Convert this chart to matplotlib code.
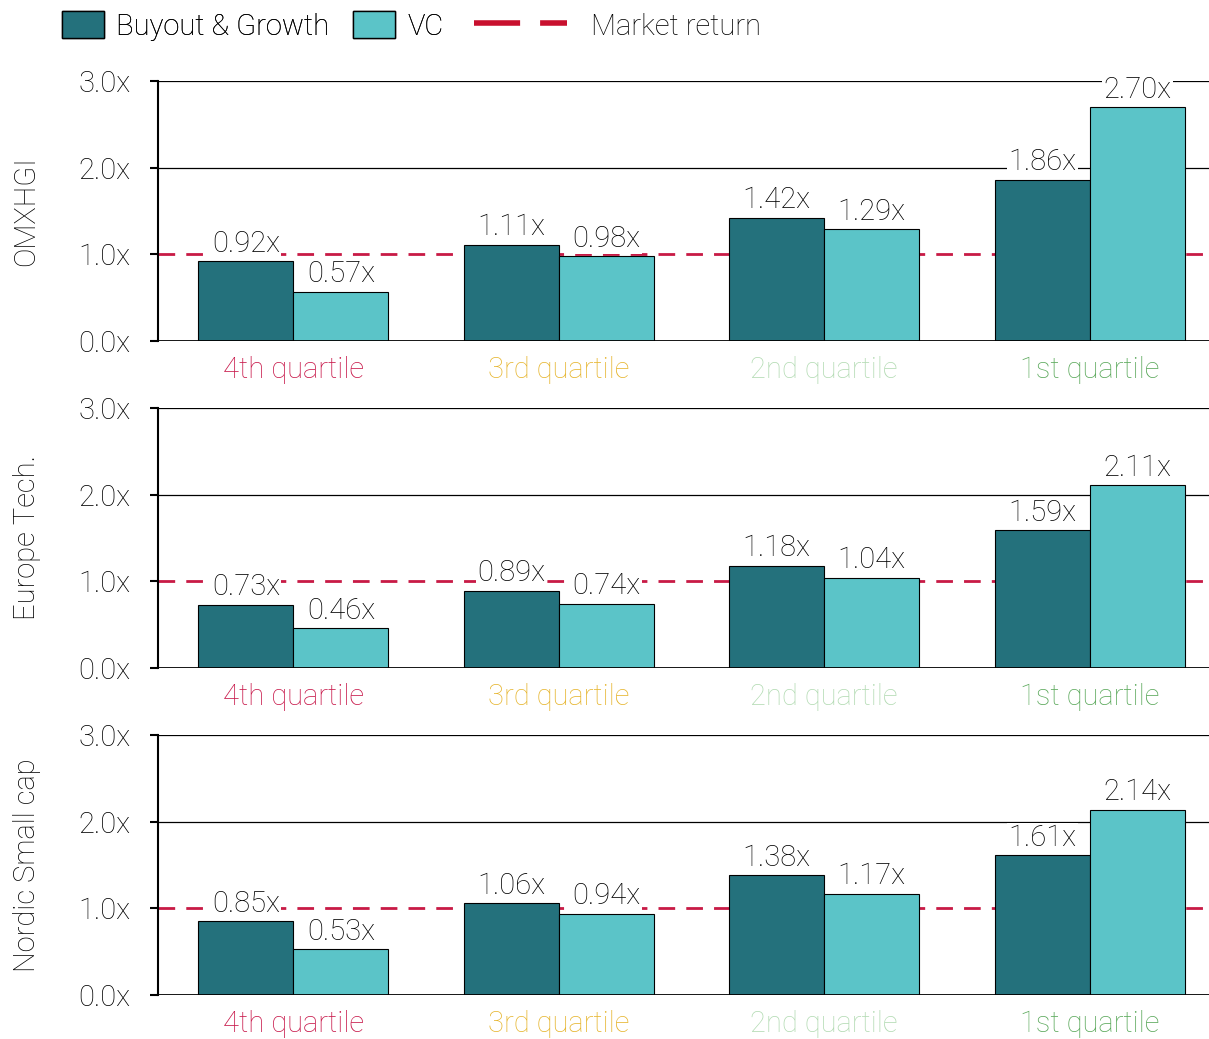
import matplotlib.pyplot as plt
import numpy as np
from matplotlib.patches import Patch
from matplotlib.lines import Line2D

plt.rcParams["font.family"] = ["Roboto", "DejaVu Sans"]
plt.rcParams["font.weight"] = "light"

quartiles = ["4th quartile", "3rd quartile", "2nd quartile", "1st quartile"]
quartile_colors = ["#c8184a", "#e6b52e", "#b3dbb3", "#5aa85a"]
indices = ["OMXHGI", "Europe Tech.", "Nordic Small cap"]
buyout = [
    [0.92, 1.11, 1.42, 1.86],
    [0.73, 0.89, 1.18, 1.59],
    [0.85, 1.06, 1.38, 1.61],
]
vc = [
    [0.57, 0.98, 1.29, 2.70],
    [0.46, 0.74, 1.04, 2.11],
    [0.53, 0.94, 1.17, 2.14],
]
market_return = 1.0

c_buyout = "#24717c"
c_vc = "#5bc4c8"
c_market = "#c81a45"
fs = 21

W, H = 1209, 1039
fig = plt.figure(figsize=(W / 100, H / 100), dpi=100)

x = np.arange(len(quartiles))
bw = 0.358
tops = [81, 408, 735]
for i, name in enumerate(indices):
    top = tops[i]
    ax = fig.add_axes([158 / W, 1 - (top + 260) / H, (W - 158) / W, 260 / H])
    ax.set_xlim(-0.51, 3.45)
    ax.set_ylim(0, 3.0)
    for s in ["top", "right", "bottom"]:
        ax.spines[s].set_visible(False)
    ax.spines["left"].set_linewidth(1.5)
    ax.axhline(0, color="black", lw=2, zorder=4)
    for g in [2.0, 3.0]:
        ax.axhline(g, color="black", lw=0.9, zorder=0)
    ax.axhline(market_return, color=c_market, lw=2, ls=(0, (6, 4)), zorder=1)

    ax.bar(x - bw / 2, buyout[i], bw, color=c_buyout, edgecolor="black", lw=0.8, zorder=2)
    ax.bar(x + bw / 2, vc[i], bw, color=c_vc, edgecolor="black", lw=0.8, zorder=2)
    for xi, b, v in zip(x, buyout[i], vc[i]):
        for xx, val in [(xi - bw / 2, b), (xi + bw / 2, v)]:
            ax.text(xx, val + 0.04, f"{val:.2f}x", ha="center", va="bottom",
                    fontsize=fs, zorder=3,
                    bbox=dict(facecolor="white", edgecolor="none", pad=1.0))

    ax.set_yticks([0, 1, 2, 3])
    ax.set_yticklabels(["0.0x", "1.0x", "2.0x", "3.0x"])
    ax.tick_params(axis="y", length=6, width=1.5, labelsize=fs, pad=14)
    ax.set_xticks(x)
    ax.set_xticklabels(quartiles, fontsize=fs)
    ax.tick_params(axis="x", length=0, pad=11)
    for lbl, c in zip(ax.get_xticklabels(), quartile_colors):
        lbl.set_color(c)
    ax.set_ylabel(name, fontsize=fs, fontweight="light", labelpad=27)

# legend: bars
bar_handles = [
    Patch(facecolor=c_buyout, edgecolor="black", label="Buyout & Growth"),
    Patch(facecolor=c_vc, edgecolor="black", label="VC"),
]
leg1 = fig.legend(handles=bar_handles, loc="upper left", bbox_to_anchor=(44 / W, 1.006),
                  ncol=2, frameon=False, fontsize=fs, handlelength=1.45, handleheight=1.05,
                  columnspacing=0.8, handletextpad=0.42, borderaxespad=0.2)
fig.add_artist(leg1)

# legend: market line (longer handle)
line_handle = [Line2D([0], [0], color="#c8102e", lw=4, ls=(0, (8.3, 3.6)),
                      label="Market return")]
fig.legend(handles=line_handle, loc="upper left", bbox_to_anchor=(456 / W, 1.006),
           frameon=False, fontsize=fs, handlelength=3.2, handleheight=1.05,
           handletextpad=0.83, borderaxespad=0.2)

fig.savefig("out.png", dpi=100)
